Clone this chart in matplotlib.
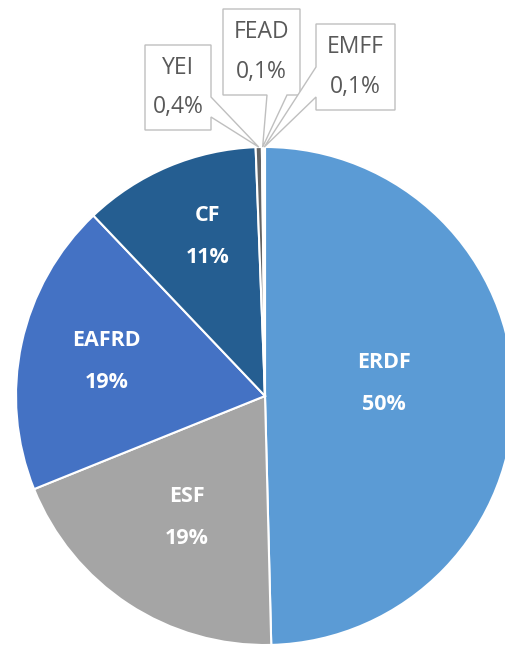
import matplotlib.pyplot as plt
from matplotlib.patches import Polygon
import numpy as np

# data
funds = ['ERDF', 'ESF', 'EAFRD', 'CF', 'YEI', 'FEAD', 'EMFF']
shares = [49.6, 19.3, 19.0, 11.5, 0.4, 0.1, 0.1]
share_labels = ['50%', '19%', '19%', '11%', '0,4%', '0,1%', '0,1%']
colors = ['#5B9BD5', '#A5A5A5', '#4472C4', '#255E91', '#636363', '#264478', '#7CAFDD']

W, H = 505, 646
CX, CY, R = 265, 396, 249   # pie centre / radius in pixels
FONT = 'Open Sans'


def px2d(px, py):
    return (px - CX) / R, (CY - py) / R


fig = plt.figure(figsize=(W / 100, H / 100), dpi=100)
ax = fig.add_axes([0, 0, 1, 1])
x0, y1 = px2d(0, 0)
x1, y0 = px2d(W, H)

wedges, _ = ax.pie(shares, colors=colors, startangle=90, counterclock=False,
                   radius=1, center=(0, 0), frame=True,
                   wedgeprops=dict(edgecolor='white', linewidth=1.5))
ax.set_xlim(x0, x1)
ax.set_ylim(y0, y1)
ax.set_aspect('equal')
ax.axis('off')

# labels inside the big slices (radius, angle nudge in degrees)
label_pos = [(0.48, 5.3), (0.58, 0.5), (0.65, 0), (0.68, -3)]
for i, (r, nudge) in enumerate(label_pos):
    w = wedges[i]
    mid = np.deg2rad((w.theta1 + w.theta2) / 2 + nudge)
    lx, ly = r * np.cos(mid), r * np.sin(mid)
    ax.text(lx, ly + 21 / R, funds[i], color='white', fontsize=15.5, fontweight='bold',
            ha='center', va='center', family=FONT)
    ax.text(lx, ly - 21 / R, share_labels[i], color='white', fontsize=15.5, fontweight='bold',
            ha='center', va='center', family=FONT)

# callouts for the tiny slices: box (left, top, right, bottom) and pointer base
boxes = {
    'YEI': ((145, 45, 211, 130), 'right', (97, 117)),
    'FEAD': ((223, 9, 300, 95), 'bottom', (267, 287)),
    'EMFF': ((316, 24, 395, 110), 'left', (67, 97)),
}
for i in range(4, 7):
    name = funds[i]
    (l, t, r_, b), side, base = boxes[name]
    w = wedges[i]
    mid = np.deg2rad((w.theta1 + w.theta2) / 2)
    tip = (np.cos(mid), np.sin(mid))
    if side == 'right':
        pts = [(l, t), (r_, t), (r_, base[0]), None, (r_, base[1]), (r_, b), (l, b)]
    elif side == 'bottom':
        pts = [(l, t), (r_, t), (r_, b), (base[1], b), None, (base[0], b), (l, b)]
    else:
        pts = [(l, t), (r_, t), (r_, b), (l, b), (l, base[1]), None, (l, base[0])]
    verts = [tip if p is None else px2d(*p) for p in pts]
    ax.add_patch(Polygon(verts, closed=True, facecolor='white', edgecolor='#BFBFBF',
                         linewidth=1, zorder=5))
    cx, cy = px2d((l + r_) / 2, (t + b) / 2)
    ax.text(cx, cy + 20 / R, name, color='#595959', fontsize=16.5, ha='center', va='center',
            family=FONT, zorder=6)
    ax.text(cx, cy - 20 / R, share_labels[i], color='#595959', fontsize=16.5, ha='center',
            va='center', family=FONT, zorder=6)

fig.savefig('out.png', dpi=100)
